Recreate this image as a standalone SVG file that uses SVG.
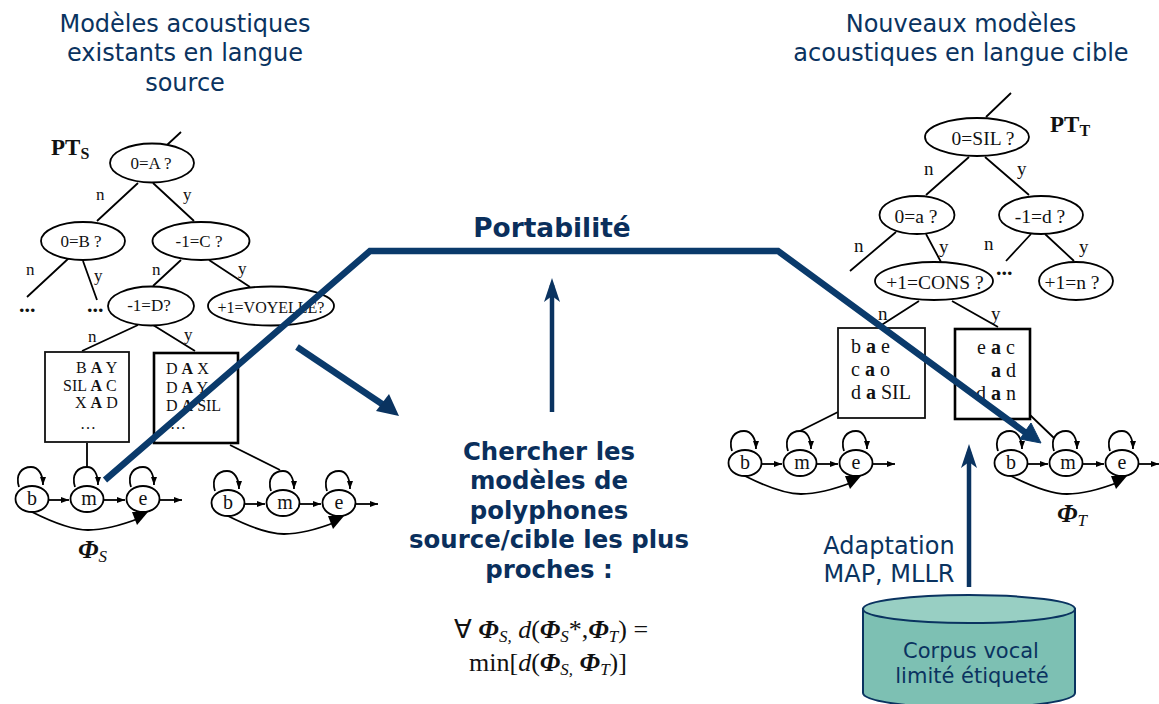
<svg xmlns="http://www.w3.org/2000/svg" width="1159" height="704" viewBox="0 0 1159 704">
<style>
text{font-family:"Liberation Serif","Times New Roman",serif;fill:#111}
.h{font-family:"DejaVu Sans",Verdana,sans-serif;font-size:24px;fill:#0a3360;text-anchor:middle}
.b{font-family:"DejaVu Sans",Verdana,sans-serif;font-weight:bold;font-size:24.4px;fill:#0a2f5c;text-anchor:middle}
.big{font-size:26.4px}
.c{font-family:"DejaVu Sans",Verdana,sans-serif;font-size:21px;fill:#0a3360;text-anchor:middle}
.t{font-size:17px;text-anchor:middle}
.tv{font-size:16px;text-anchor:middle}
.r{font-size:19.5px;text-anchor:middle}
.st{font-size:20px;text-anchor:middle}
.l{font-size:17px}
.lr{font-size:19px}
.s{font-size:16px}
.sr{font-size:20px}
.pt{font-size:23px;font-weight:bold}
.ps{font-size:16px}
.d{font-size:22px;font-weight:bold}
.phi{font-size:26px;font-weight:bold;font-style:italic}
.sub{font-size:17px;font-style:italic;font-weight:normal}
.m{font-size:26px;text-anchor:middle}
.e{fill:#fff;stroke:#000;stroke-width:1.8}
.box{fill:#fff;stroke:#111;stroke-width:1.8}
.box2{fill:#fff;stroke:#000;stroke-width:2.6}
.n{fill:none;stroke:#000;stroke-width:1.8}
.a{marker-end:url(#sm)}
.blue{fill:none;stroke:#0a3a6b;stroke-width:6.5}
.up{fill:none;stroke:#0a3360;stroke-width:4.5}
.bf{font-weight:bold;font-style:italic}
.it{font-style:italic}
.bo{font-weight:bold}
</style>
<defs>
<marker id="sm" markerUnits="userSpaceOnUse" markerWidth="10" markerHeight="8" refX="8" refY="3" orient="auto"><path d="M0 0L8 3L0 6z" fill="#000"/></marker>
</defs>

<g id="titles">
<text class="h" x="185" y="32">Modèles acoustiques</text>
<text class="h" x="185" y="61">existants en langue</text>
<text class="h" x="185" y="91">source</text>
<text class="h" x="961" y="32">Nouveaux modèles</text>
<text class="h" x="961" y="61">acoustiques en langue cible</text>
</g>

<g id="connectors">
<path class="n" d="M167 145L181 132M138 183L97 221M153 183L194 221M69 258L27 297M83 261L97 300M181 260L153 286M209 260L250 287M138 325L82 351M153 325L195 351M87 443V467M230 445L280 470"/>
<path class="n" d="M986 117L1011 93M969 157L926 195M985 157L1029 195M896 232L850 271M926 234L941 262M1031 234L1006 261M1045 234L1074 261M919 301L880 326M952 301L998 327M838 412L800 431M1030 415L1054 438"/>
</g>

<g id="tree-source">
<text class="pt" x="51" y="155">PT<tspan class="ps" dy="4">S</tspan></text>
<g id="s-q0"><ellipse class="e" cx="152" cy="163" rx="42" ry="19.5"/><text class="t" x="151" y="169">0=A ?</text></g>
<g id="s-q1"><ellipse class="e" cx="83" cy="241" rx="42" ry="19"/><text class="t" x="81" y="247">0=B ?</text></g>
<g id="s-q2"><ellipse class="e" cx="201" cy="241" rx="48.5" ry="19"/><text class="t" x="199" y="247">-1=C ?</text></g>
<g id="s-q3"><ellipse class="e" cx="151" cy="306" rx="43" ry="19.5"/><text class="t" x="149" y="311">-1=D?</text></g>
<g id="s-q4"><ellipse class="e" cx="271" cy="306" rx="63" ry="19.5"/><text class="tv" x="271" y="313">+1=VOYELLE?</text></g>
<text class="l" x="96" y="200">n</text><text class="l" x="183" y="200">y</text>
<text class="l" x="26" y="275">n</text><text class="l" x="94" y="281">y</text>
<text class="l" x="152" y="275">n</text><text class="l" x="238" y="274">y</text>
<text class="l" x="88" y="342">n</text><text class="l" x="184" y="340">y</text>
<text class="d" x="19" y="312">...</text>
<text class="d" x="87" y="312">...</text>
</g>

<g id="box-s1"><rect class="box" x="45" y="352" width="84" height="90"/>
<text class="s" x="76" y="373">B <tspan class="bo">A</tspan> Y</text>
<text class="s" x="63" y="391">SIL <tspan class="bo">A</tspan> C</text>
<text class="s" x="75" y="408">X <tspan class="bo">A</tspan> D</text>
<text class="s" x="80" y="429">…</text></g>
<g id="box-s2"><rect class="box2" x="154" y="353" width="84" height="90"/>
<text class="s" x="166" y="374">D <tspan class="bo">A</tspan> X</text>
<text class="s" x="166" y="393">D <tspan class="bo">A</tspan> Y</text>
<text class="s" x="166" y="411">D <tspan class="bo">A</tspan> SIL</text>
<text class="s" x="170" y="429">…</text></g>

<g id="hmm-s1">
<path class="n a" d="M19 487C15 474 22 467 31 467C38 467 43 474 43 485"/>
<path class="n a" d="M75 487C71 474 78 467 87 467C94 467 98 474 98 485"/>
<path class="n a" d="M131 487C127 474 134 467 143 467C150 467 154 474 154 485"/>
<path class="n a" d="M48 500H69"/><path class="n a" d="M104 500H125"/><path class="n a" d="M160 500H182"/>
<path class="n" d="M32 512C60 526 75 530 88 530C105 530 122 525 140 518"/>
<path d="M132 512L148 512L137 525z" fill="#000"/>
<ellipse class="e" cx="32" cy="499" rx="16.5" ry="13"/><ellipse class="e" cx="87" cy="499" rx="16.5" ry="13"/><ellipse class="e" cx="143" cy="499" rx="16.5" ry="13"/>
<text class="st" x="32" y="505">b</text><text class="st" x="89" y="505">m</text><text class="st" x="143" y="505">e</text>
</g>
<g id="hmm-s2" transform="translate(196 4)">
<path class="n a" d="M19 487C15 474 22 467 31 467C38 467 43 474 43 485"/>
<path class="n a" d="M75 487C71 474 78 467 87 467C94 467 98 474 98 485"/>
<path class="n a" d="M131 487C127 474 134 467 143 467C150 467 154 474 154 485"/>
<path class="n a" d="M48 500H69"/><path class="n a" d="M104 500H125"/><path class="n a" d="M160 500H182"/>
<path class="n" d="M32 512C60 526 75 530 88 530C105 530 122 525 140 518"/>
<path d="M132 512L148 512L137 525z" fill="#000"/>
<ellipse class="e" cx="32" cy="499" rx="16.5" ry="13"/><ellipse class="e" cx="87" cy="499" rx="16.5" ry="13"/><ellipse class="e" cx="143" cy="499" rx="16.5" ry="13"/>
<text class="st" x="32" y="505">b</text><text class="st" x="89" y="505">m</text><text class="st" x="143" y="505">e</text>
</g>
<text id="phi-s" class="phi" x="78" y="558">Φ<tspan class="sub" dy="4">S</tspan></text>

<g id="tree-target">
<text class="pt" x="1050" y="132">PT<tspan class="ps" dy="4">T</tspan></text>
<g id="t-q0"><ellipse class="e" cx="977" cy="137" rx="52" ry="19"/><text class="r" x="983" y="145">0=SIL ?</text></g>
<g id="t-q1"><ellipse class="e" cx="917" cy="215" rx="37.5" ry="19"/><text class="r" x="916" y="223">0=a ?</text></g>
<g id="t-q2"><ellipse class="e" cx="1041" cy="215" rx="42" ry="19"/><text class="r" x="1040" y="223">-1=d ?</text></g>
<g id="t-q3"><ellipse class="e" cx="934" cy="281" rx="59" ry="19"/><text class="r" x="935" y="289">+1=CONS ?</text></g>
<g id="t-q4"><ellipse class="e" cx="1076" cy="281" rx="37" ry="19"/><text class="r" x="1072" y="289">+1=n ?</text></g>
<text class="lr" x="924" y="175">n</text><text class="lr" x="1017" y="175">y</text>
<text class="lr" x="854" y="252">n</text><text class="lr" x="939" y="253">y</text>
<text class="lr" x="984" y="250">n</text><text class="lr" x="1079" y="253">y</text>
<text class="lr" x="878" y="320">n</text><text class="lr" x="991" y="320">y</text>
<text class="d" x="996" y="275">...</text>
</g>

<g id="box-t1"><rect class="box" x="838" y="328" width="87" height="90"/>
<text class="sr" x="851" y="353">b <tspan class="bo">a</tspan> e</text>
<text class="sr" x="851" y="376">c <tspan class="bo">a</tspan> o</text>
<text class="sr" x="851" y="399">d <tspan class="bo">a</tspan> SIL</text></g>
<g id="box-t2"><rect class="box2" x="955" y="329" width="75" height="90"/>
<text class="sr" x="977" y="354">e <tspan class="bo">a</tspan> c</text>
<text class="sr" x="991" y="377"><tspan class="bo">a</tspan> d</text>
<text class="sr" x="976" y="400">d <tspan class="bo">a</tspan> n</text></g>

<g id="hmm-t1" transform="translate(713 -36)">
<path class="n a" d="M19 487C15 474 22 467 31 467C38 467 43 474 43 485"/>
<path class="n a" d="M75 487C71 474 78 467 87 467C94 467 98 474 98 485"/>
<path class="n a" d="M131 487C127 474 134 467 143 467C150 467 154 474 154 485"/>
<path class="n a" d="M48 500H69"/><path class="n a" d="M104 500H125"/><path class="n a" d="M160 500H182"/>
<path class="n" d="M32 512C60 526 75 530 88 530C105 530 122 525 140 518"/>
<path d="M132 512L148 512L137 525z" fill="#000"/>
<ellipse class="e" cx="32" cy="499" rx="16.5" ry="13"/><ellipse class="e" cx="87" cy="499" rx="16.5" ry="13"/><ellipse class="e" cx="143" cy="499" rx="16.5" ry="13"/>
<text class="st" x="32" y="505">b</text><text class="st" x="89" y="505">m</text><text class="st" x="143" y="505">e</text>
</g>
<g id="hmm-t2" transform="translate(979 -36)">
<path class="n a" d="M19 487C15 474 22 467 31 467C38 467 43 474 43 485"/>
<path class="n a" d="M75 487C71 474 78 467 87 467C94 467 98 474 98 485"/>
<path class="n a" d="M131 487C127 474 134 467 143 467C150 467 154 474 154 485"/>
<path class="n a" d="M48 500H69"/><path class="n a" d="M104 500H125"/><path class="n a" d="M160 500H180"/>
<path class="n" d="M32 512C60 526 75 530 88 530C105 530 122 525 140 518"/>
<path d="M132 512L148 512L137 525z" fill="#000"/>
<ellipse class="e" cx="32" cy="499" rx="16.5" ry="13"/><ellipse class="e" cx="87" cy="499" rx="16.5" ry="13"/><ellipse class="e" cx="143" cy="499" rx="16.5" ry="13"/>
<text class="st" x="32" y="505">b</text><text class="st" x="89" y="505">m</text><text class="st" x="143" y="505">e</text>
</g>
<text id="phi-t" class="phi" x="1057" y="522">Φ<tspan class="sub" dy="4">T</tspan></text>

<g id="portability">
<path class="blue" d="M105 480L370 251H778L1026 433"/>
<path d="M1041 443L1020 439L1031 423z" fill="#0a3a6b" stroke="#0a3a6b" stroke-width="1"/>
<path class="blue" d="M297 347L385 406"/>
<path d="M399 416L376 411L389 394z" fill="#0a3360"/>
<path class="up" d="M552 412V285"/>
<path d="M552 278L560 302L552 296L544 302z" fill="#0a3360"/>
<path class="up" d="M969 587V452"/>
<path d="M969 444L977 468L969 462L961 468z" fill="#0a3360"/>
<text class="b big" x="552" y="237">Portabilité</text>
</g>

<g id="search">
<text class="b" x="549" y="460">Chercher les</text>
<text class="b" x="549" y="489">modèles de</text>
<text class="b" x="549" y="519">polyphones</text>
<text class="b" x="549" y="548">source/cible les plus</text>
<text class="b" x="549" y="578">proches :</text>
<text class="m" x="551" y="638">∀ <tspan class="bf">Φ</tspan><tspan class="sub" dy="4">S,</tspan> <tspan class="it" dy="-4">d</tspan>(<tspan class="bf">Φ</tspan><tspan class="sub" dy="4">S</tspan><tspan dy="-4">*,</tspan><tspan class="bf">Φ</tspan><tspan class="sub" dy="4">T</tspan><tspan dy="-4">) =</tspan></text>
<text class="m" x="548" y="671">min[<tspan class="it">d</tspan>(<tspan class="bf">Φ</tspan><tspan class="sub" dy="4">S,</tspan> <tspan class="bf" dy="-4">Φ</tspan><tspan class="sub" dy="4">T</tspan><tspan dy="-4">)]</tspan></text>
</g>

<g id="adaptation">
<text class="h" x="889" y="554">Adaptation</text>
<text class="h" x="889" y="582">MAP, MLLR</text>
</g>

<g id="corpus">
<path d="M863 609V693C863 701 910 708 969 708S1075 701 1075 693V609z" fill="#7dc0b3" stroke="#0a3360" stroke-width="2"/>
<ellipse cx="969" cy="609" rx="106" ry="14" fill="#98cfc3" stroke="#0a3360" stroke-width="2"/>
<text class="c" x="971" y="658">Corpus vocal</text>
<text class="c" x="972" y="683">limité étiqueté</text>
</g>
</svg>
